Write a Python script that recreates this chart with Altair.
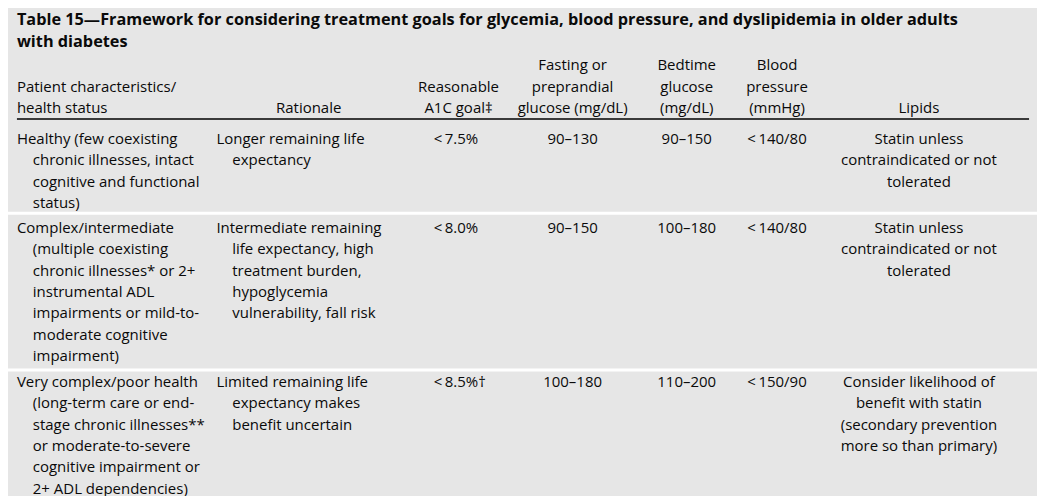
import altair as alt
import pandas as pd

# ---------------- content ----------------
title_lines = [
    "Table 15\u2014Framework for considering treatment goals for glycemia, blood pressure, and dyslipidemia in older adults",
    "with diabetes",
]
columns = ["status", "rationale", "a1c", "fasting", "bedtime", "bp", "lipids"]
headers = {
    "status": ["Patient characteristics/", "health status"],
    "rationale": ["Rationale"],
    "a1c": ["Reasonable", "A1C goal\u2021"],
    "fasting": ["Fasting or", "preprandial", "glucose (mg/dL)"],
    "bedtime": ["Bedtime", "glucose", "(mg/dL)"],
    "bp": ["Blood", "pressure", "(mmHg)"],
    "lipids": ["Lipids"],
}
status = [
    ["Healthy (few coexisting", "chronic illnesses, intact", "cognitive and functional", "status)"],
    ["Complex/intermediate", "(multiple coexisting", "chronic illnesses* or 2+", "instrumental ADL",
     "impairments or mild-to-", "moderate cognitive", "impairment)"],
    ["Very complex/poor health", "(long-term care or end-", "stage chronic illnesses**",
     "or moderate-to-severe", "cognitive impairment or", "2+ ADL dependencies)"],
]
rationale = [
    ["Longer remaining life", "expectancy"],
    ["Intermediate remaining", "life expectancy, high", "treatment burden,", "hypoglycemia",
     "vulnerability, fall risk"],
    ["Limited remaining life", "expectancy makes", "benefit uncertain"],
]
a1c = [["<\u20097.5%"], ["<\u20098.0%"], ["<\u20098.5%\u2020"]]
fasting = [["90\u2013130"], ["90\u2013150"], ["100\u2013180"]]
bedtime = [["90\u2013150"], ["100\u2013180"], ["110\u2013200"]]
bp = [["<\u2009140/80"], ["<\u2009140/80"], ["<\u2009150/90"]]
lipids = [
    ["Statin unless", "contraindicated or not", "tolerated"],
    ["Statin unless", "contraindicated or not", "tolerated"],
    ["Consider likelihood of", "benefit with statin", "(secondary prevention", "more so than primary)"],
]
cells = {"status": status, "rationale": rationale, "a1c": a1c, "fasting": fasting,
         "bedtime": bedtime, "bp": bp, "lipids": lipids}

# ---------------- layout (page pixel coordinates) ----------------
W, H, M = 1045, 496, 8
LH = 21.5
col_x = {"status": 17, "rationale": 218, "a1c": 437, "fasting": 577,
         "bedtime": 692, "bp": 783, "lipids": 926}
col_hx = {"status": 17, "rationale": 311, "a1c": 462, "fasting": 577,
          "bedtime": 692, "bp": 783, "lipids": 926}
indent = 16
title_y = [18.5, 40.5]
header_bottom = 107
row_starts = [138, 228, 383]
separators = [213, 371]
header_rule_y = 118

left_rows, center_rows, title_rows = [], [], []
for i, t in enumerate(title_lines):
    title_rows.append({"x": 17, "y": title_y[i], "t": t})
for c in columns:
    lines = headers[c]
    n = len(lines)
    for i, t in enumerate(lines):
        y = header_bottom - (n - 1 - i) * LH
        rec = {"x": col_hx[c], "y": y, "t": t}
        (left_rows if c == "status" else center_rows).append(rec)
for r in range(3):
    for c in columns:
        for i, t in enumerate(cells[c][r]):
            y = row_starts[r] + i * LH
            if c in ("status", "rationale"):
                left_rows.append({"x": col_x[c] + (indent if i > 0 else 0), "y": y, "t": t})
            elif c == "a1c":
                left_rows.append({"x": col_x[c], "y": y, "t": t})
            else:
                center_rows.append({"x": col_x[c], "y": y, "t": t})

xs = alt.Scale(domain=[M, W], nice=False, zero=False)
ys = alt.Scale(domain=[M, H], nice=False, zero=False, reverse=True)
X = alt.X("x:Q", scale=xs, axis=None)
Y = alt.Y("y:Q", scale=ys, axis=None)

BODY = "Open Sans"
FS = 15.1
INK = "#0a0a0a"

title = alt.Chart(pd.DataFrame(title_rows)).mark_text(
    align="left", baseline="middle", font="Open Sans", fontWeight="bold", fontSize=16.4, color=INK
).encode(x=X, y=Y, text="t:N")
left = alt.Chart(pd.DataFrame(left_rows)).mark_text(
    align="left", baseline="middle", font=BODY, fontSize=FS, color=INK
).encode(x=X, y=Y, text="t:N")
center = alt.Chart(pd.DataFrame(center_rows)).mark_text(
    align="center", baseline="middle", font=BODY, fontSize=FS, color=INK
).encode(x=X, y=Y, text="t:N")

sep = alt.Chart(pd.DataFrame({"y": separators, "x": [M] * 2, "x2": [W] * 2})).mark_rule(
    color="white", strokeWidth=3
).encode(x=X, x2="x2:Q", y=Y)
hrule = alt.Chart(pd.DataFrame({"y": [header_rule_y], "x": [17], "x2": [1037]})).mark_rule(
    color="black", strokeWidth=1.5
).encode(x=X, x2="x2:Q", y=Y)

chart = alt.layer(sep, hrule, title, left, center).properties(
    width=W - M, height=H - M, background="#e6e6e6", padding=0,
    autosize=alt.AutoSizeParams(type="none"),
).configure_view(stroke=None)

chart.save("out.html", embed_options={"renderer": "svg", "actions": False})
